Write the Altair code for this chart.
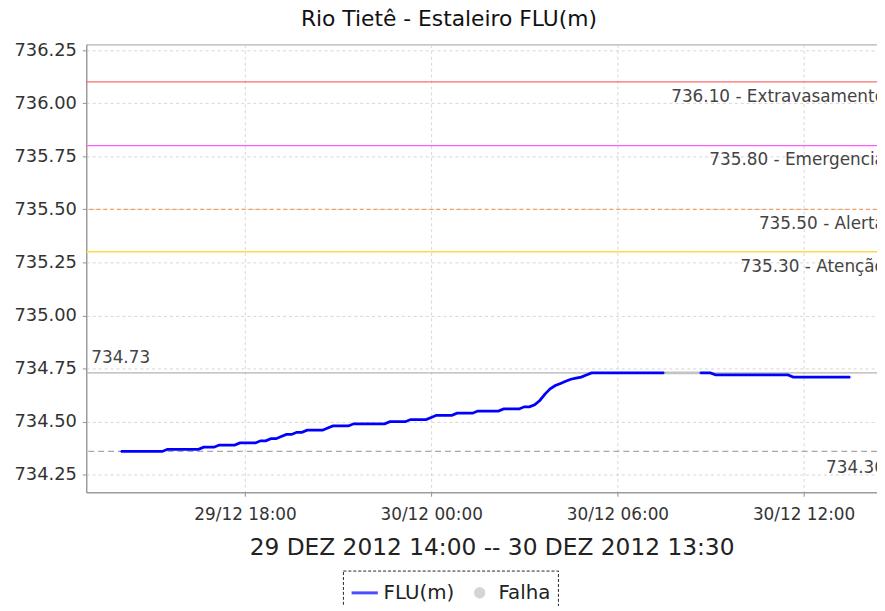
import altair as alt
import pandas as pd

# ---------------- data ----------------
chart_title = "Rio Tietê - Estaleiro FLU(m)"
x_title = "29 DEZ 2012 14:00 -- 30 DEZ 2012 13:30"
serie_names = ["FLU(m)", "Falha"]
serie_colors = ["#0000ff", "#c4c4c4"]
serie_shapes = [
    "stroke",
    "M-0.32,0A0.32,0.32 0 1,0 0.32,0A0.32,0.32 0 1,0 -0.32,0Z"
    "M-0.12,0A0.12,0.12 0 1,0 0.12,0A0.12,0.12 0 1,0 -0.12,0Z",
]

# 10-minute samples, 29/12 14:00 -> 30/12 13:30 (None = falha)
nivel = [
    734.36, 734.36, 734.36, 734.36, 734.36, 734.36, 734.36, 734.36, 734.36,   # 14:00-15:20
    734.37, 734.37, 734.37, 734.37, 734.37, 734.37, 734.37,                   # 15:30-16:30
    734.38, 734.38, 734.38,                                                   # 16:40-17:00
    734.39, 734.39, 734.39, 734.39,                                           # 17:10-17:40
    734.40, 734.40, 734.40, 734.40,                                           # 17:50-18:20
    734.41, 734.41, 734.42, 734.42, 734.43, 734.44, 734.44, 734.45, 734.45,   # 18:30-19:50
    734.46, 734.46, 734.46, 734.46, 734.47,                                   # 20:00-20:40
    734.48, 734.48, 734.48, 734.48,                                           # 20:50-21:20
    734.49, 734.49, 734.49, 734.49, 734.49, 734.49, 734.49,                   # 21:30-22:30
    734.50, 734.50, 734.50, 734.50,                                           # 22:40-23:10
    734.51, 734.51, 734.51, 734.51,                                           # 23:20-23:50
    734.52,                                                                   # 00:00
    734.53, 734.53, 734.53, 734.53,                                           # 00:10-00:40
    734.54, 734.54, 734.54, 734.54,                                           # 00:50-01:20
    734.55, 734.55, 734.55, 734.55, 734.55,                                   # 01:30-02:10
    734.56, 734.56, 734.56, 734.56,                                           # 02:20-02:50
    734.57, 734.57,                                                           # 03:00-03:10
    734.58, 734.60, 734.63, 734.655, 734.67, 734.68, 734.69, 734.70, 734.705, 734.71, 734.72,  # 03:20-05:00
    734.73, 734.73, 734.73, 734.73, 734.73, 734.73, 734.73, 734.73,
    734.73, 734.73, 734.73, 734.73, 734.73, 734.73, 734.73,                   # 05:10-07:30
    None, None, None, None, None, None,                                       # 07:40-08:30 falha
    734.73, 734.73, 734.73,                                                   # 08:40-09:00
    734.72, 734.72, 734.72, 734.72, 734.72, 734.72, 734.72, 734.72,
    734.72, 734.72, 734.72, 734.72, 734.72, 734.72, 734.72,                   # 09:10-11:30
    734.71, 734.71, 734.71, 734.71, 734.71, 734.71,
    734.71, 734.71, 734.71, 734.71, 734.71, 734.71,                           # 11:40-13:30
]
t_start = "2012-12-29 14:00"
t_end = "2012-12-30 13:30"

level_values = [736.10, 735.80, 735.50, 735.30]
level_names = ["Extravasamento", "Emergencia", "Alerta", "Atenção"]
level_colors = ["#ff6a6a", "#ff5cff", "#f0a060", "#ffd84a"]
level_dashes = [[1, 0], [1, 0], [4, 3], [1, 0]]

y_ticks = [734.25, 734.50, 734.75, 735.00, 735.25, 735.50, 735.75, 736.00, 736.25]
y_domain = [734.1675, 736.2766]
x_ticks = [(2012, 12, 29, 18), (2012, 12, 30, 0), (2012, 12, 30, 6), (2012, 12, 30, 12)]
x_domain = [(2012, 12, 29, 12, 53), (2012, 12, 30, 14, 22)]

# ---------------- frames ----------------
times = pd.date_range(t_start, t_end, freq="10min").strftime("%Y-%m-%dT%H:%M:%S")
df = pd.DataFrame({"t": list(times), "v": nivel})
gap = df["v"].isna()
df["seg"] = gap.cumsum()
df["serie"] = serie_names[0]
flu = df.dropna().reset_index(drop=True)

gap_idx = df.index[gap]
falha = df.loc[[gap_idx[0] - 1, gap_idx[-1] + 1], ["t", "v"]].copy()
falha["serie"] = serie_names[1]

vmax = flu["v"].max()
vmin = flu["v"].min()

FONT = "DejaVu Sans"
W, H = 798, 452

xdt = [alt.DateTime(year=a, month=b, date=c, hours=d) for a, b, c, d in x_ticks]
xdom = [alt.DateTime(year=a, month=b, date=c, hours=d, minutes=m) for a, b, c, d, m in x_domain]

xscale = alt.Scale(domain=xdom)
yscale = alt.Scale(domain=y_domain, nice=False, zero=False)

xaxis = alt.Axis(values=xdt, format="%d/%m %H:%M", title=x_title, labelFontSize=17,
                 titleFontSize=23.5, titleFontWeight="normal", titleColor="#222",
                 titlePadding=14, titleX=409, titleAlign="center",
                 tickSize=4, labelPadding=10, labelFlush=False)
yaxis = alt.Axis(values=y_ticks, format=".2f", title=None, labelFontSize=18,
                 tickSize=4, labelPadding=6)

X = alt.X("t:T", scale=xscale, axis=xaxis)
Y = alt.Y("v:Q", scale=yscale, axis=yaxis)

legend = alt.Legend(
    title=None, orient="none", legendX=259, legendY=531, direction="horizontal",
    labelFontSize=20, labelFont=FONT, labelColor="#222", symbolSize=700,
    symbolStrokeWidth=3, strokeColor="#222",
    padding=7, columnPadding=10, labelOffset=4,
)
color = alt.Color("serie:N", scale=alt.Scale(domain=serie_names, range=serie_colors), legend=legend)
shape = alt.Shape("serie:N", scale=alt.Scale(domain=serie_names, range=serie_shapes), legend=legend)

layers = []
for v, name, c, d in zip(level_values, level_names, level_colors, level_dashes):
    ldf = pd.DataFrame({"v": [v], "label": [f"{v:.2f} - {name}"]})
    layers.append(alt.Chart(ldf).mark_rule(color=c, strokeWidth=1.4, strokeDash=d).encode(y=Y))
    layers.append(alt.Chart(ldf).mark_text(align="right", baseline="middle", dy=15, clip=True,
                                           fontSize=17, font=FONT, color="#444")
                  .encode(y=Y, x=alt.value(806), text="label:N"))

mx = pd.DataFrame({"v": [vmax], "label": [f"{vmax:.2f}"]})
mn = pd.DataFrame({"v": [vmin], "label": [f"{vmin:.2f}"]})
layers.append(alt.Chart(mx).mark_rule(color="#b4b4b4", strokeWidth=1.4).encode(y=Y))
layers.append(alt.Chart(mn).mark_rule(color="#a8a8a8", strokeWidth=1.4, strokeDash=[6, 4]).encode(y=Y))
layers.append(alt.Chart(mx).mark_text(align="left", baseline="middle", dy=-15, fontSize=17,
                                      font=FONT, color="#444")
              .encode(y=Y, x=alt.value(5), text="label:N"))
layers.append(alt.Chart(mn).mark_text(align="right", baseline="middle", dy=17, clip=True,
                                      fontSize=17, font=FONT, color="#444")
              .encode(y=Y, x=alt.value(806), text="label:N"))

layers.append(alt.Chart(falha).mark_line(strokeWidth=2.8, color=serie_colors[1]).encode(x=X, y=Y))
layers.append(alt.Chart(flu).mark_line(strokeWidth=2.8, color=serie_colors[0])
              .encode(x=X, y=Y, detail="seg:N"))
layers.append(alt.Chart(flu).mark_point(filled=False, size=6, strokeWidth=1)
              .encode(x=X, y=Y, color=color, shape=shape))

chart = alt.layer(*layers).properties(
    width=W, height=H,
    title=alt.TitleParams(chart_title, fontSize=22, fontWeight="normal", font=FONT,
                          color="#111", offset=10, dx=-33),
    autosize=alt.AutoSizeParams(type="none"),
    padding={"left": 79, "top": 34, "right": 0, "bottom": 112},
).configure_view(stroke="#a0a0a0", strokeWidth=1).configure_axis(
    gridColor="#d6d6d6", gridDash=[3, 3], domainColor="#909090", tickColor="#909090",
    labelColor="#333", labelFont=FONT, titleFont=FONT,
).configure_legend(strokeDash=[3, 2], strokeWidth=1)

chart.save("out.html", embed_options={"renderer": "svg", "actions": False})
